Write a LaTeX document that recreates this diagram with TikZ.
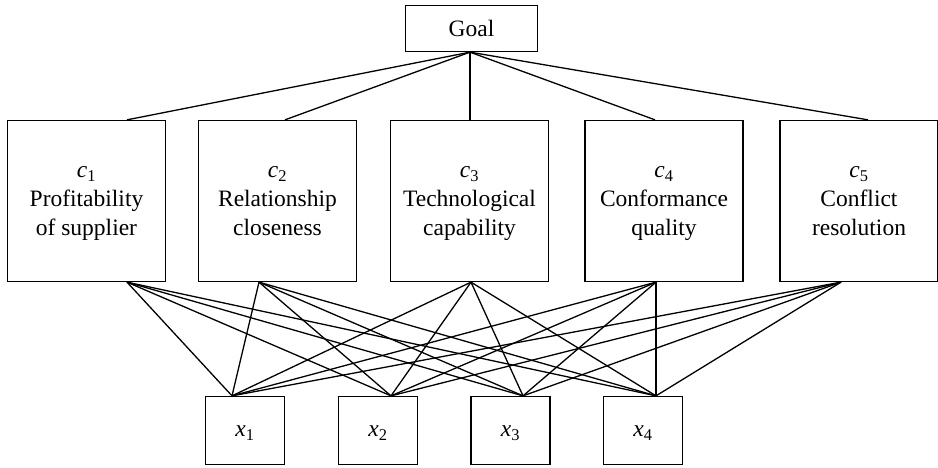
\documentclass[tikz,border=0pt]{standalone}
\usepackage{fontspec}
\setmainfont{Liberation Serif}
\newcommand{\cl}[3]{\strut\textit{c}\textsubscript{#1}\\\strut #2\\\strut #3}
\begin{document}
\begin{tikzpicture}[x=1pt,y=-1pt,
  box/.style={draw, line width=1.3pt, inner sep=0pt, align=center, font=\fontsize{23.5}{29}\selectfont},
  cbox/.style={box, minimum width=158pt, minimum height=161pt},
  xbox/.style={box, minimum width=79pt, minimum height=68pt},
  gbox/.style={box, minimum width=132pt, minimum height=46pt},
  link/.style={line width=1.3pt}]
\useasboundingbox (0,0) rectangle (938,468);
\node[gbox] (goal) at (471.5,28.5) {Goal};
\node[cbox] (c1) at (86.5,201) {\cl{1}{Profitability}{of supplier}};
\node[cbox] (c2) at (277.5,201) {\cl{2}{Relationship}{closeness}};
\node[cbox] (c3) at (469.5,201) {\cl{3}{Technological}{capability}};
\node[cbox] (c4) at (664,201) {\cl{4}{Conformance}{quality}};
\node[cbox] (c5) at (859,201) {\cl{5}{Conflict}{resolution}};
\node[xbox] (x1) at (245,430.5) {\strut\textit{x}\textsubscript{1}};
\node[xbox] (x2) at (378,430.5) {\strut\textit{x}\textsubscript{2}};
\node[xbox] (x3) at (510.5,430.5) {\strut\textit{x}\textsubscript{3}};
\node[xbox] (x4) at (643,430.5) {\strut\textit{x}\textsubscript{4}};
\coordinate (g) at ([xshift=-1.5pt]goal.south);
\coordinate (c1t) at ([xshift=40.5pt]c1.north);
\coordinate (c2t) at ([xshift=7.5pt]c2.north);
\coordinate (c3t) at ([xshift=0.5pt]c3.north);
\coordinate (c4t) at ([xshift=-9pt]c4.north);
\coordinate (c5t) at ([xshift=9pt]c5.north);
\coordinate (c1b) at ([xshift=40.5pt]c1.south);
\coordinate (c2b) at ([xshift=-18.5pt]c2.south);
\coordinate (c3b) at ([xshift=1.5pt]c3.south);
\coordinate (c4b) at ([xshift=-8pt]c4.south);
\coordinate (c5b) at ([xshift=-18pt]c5.south);
\coordinate (x1t) at ([xshift=-13pt]x1.north);
\coordinate (x2t) at ([xshift=13pt]x2.north);
\coordinate (x3t) at ([xshift=12.5pt]x3.north);
\coordinate (x4t) at ([xshift=13pt]x4.north);
\foreach \c in {1,...,5} {
  \draw[link] (g) -- (c\c t);
  \foreach \x in {1,...,4} {
    \draw[link] (c\c b) -- (x\x t);
  }
}
\end{tikzpicture}
\end{document}
